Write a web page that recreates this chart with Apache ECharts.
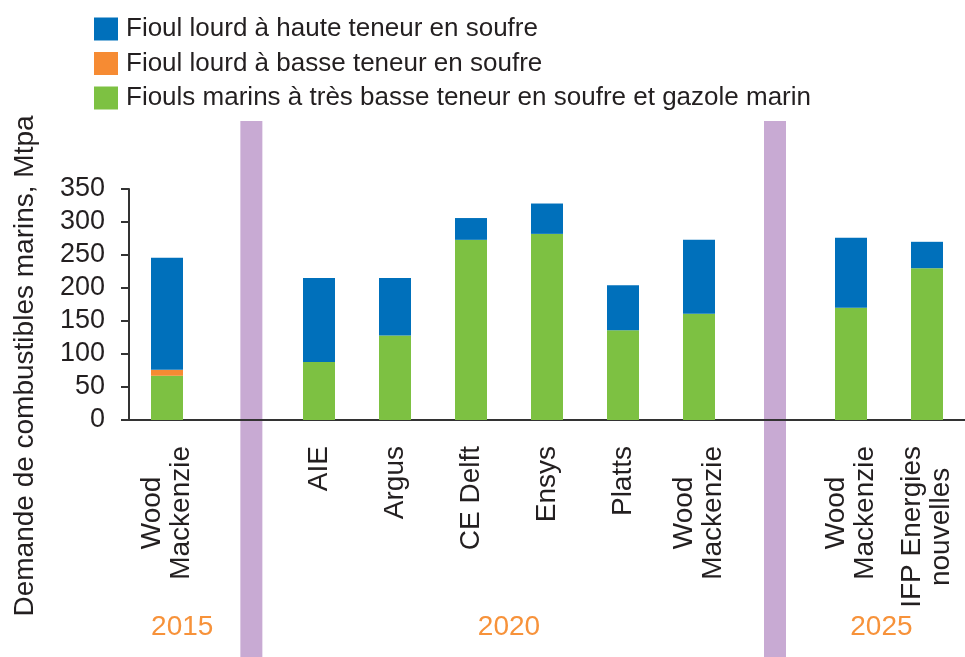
<!DOCTYPE html>
<html>
<head>
<meta charset="utf-8">
<script src="https://cdn.jsdelivr.net/npm/echarts@6/dist/echarts.min.js"></script>
<style>
  html, body { margin: 0; padding: 0; background: #fff; }
  #chart { width: 965px; height: 657px; }
</style>
</head>
<body>
<div id="chart"></div>
<script>
// categories: empty slots hold the purple separators
var categories = ['Wood\nMackenzie', '', 'AIE', 'Argus', 'CE Delft', 'Ensys', 'Platts', 'Wood\nMackenzie', '', 'Wood\nMackenzie', 'IFP Energies\nnouvelles'];
var tresBasse = [67, null, 88, 128, 273, 282, 136, 161, null, 170, 230];
var basse = [9, null, null, null, null, null, null, null, null, null, null];
var haute = [170, null, 127, 87, 33, 46, 68, 112, null, 106, 40];
var yTicks = [0, 50, 100, 150, 200, 250, 300, 350];
var separatorSlots = [1, 8];
// year label and the slots it sits under
var years = ['2015', '2020', '2025'];
var yearSlots = [[0, 0.4], [2, 7], [9, 9.8]];

var names = [
  'Fioul lourd à haute teneur en soufre',
  'Fioul lourd à basse teneur en soufre',
  'Fiouls marins à très basse teneur en soufre et gazole marin'
];
var FONT = '"Liberation Sans", Arial, sans-serif';
var TXT = '#231f20';

var chart = echarts.init(document.getElementById('chart'));

var option = {
  animation: false,
  backgroundColor: '#fff',
  textStyle: { fontFamily: FONT, color: TXT },
  legend: {
    orient: 'vertical',
    left: 89,
    top: 11,
    icon: 'rect',
    itemWidth: 24,
    itemHeight: 23,
    itemGap: 8.5,
    itemStyle: { borderWidth: 0 },
    textStyle: { fontSize: 26, color: TXT, fontFamily: FONT, padding: [0, 0, 0, 3] },
    data: names
  },
  grid: { left: 129, top: 189, width: 840, height: 231, containLabel: false },
  xAxis: {
    type: 'category',
    data: categories,
    axisLine: { lineStyle: { color: '#333', width: 2 } },
    axisTick: { show: false },
    axisLabel: {
      interval: 0,
      rotate: 90,
      margin: 26,
      formatter: function (v) {
        return v.split('\n').map(function (s) { return '{c|' + s + '}'; }).join('\n');
      },
      rich: {
        c: { align: 'center', fontSize: 28, lineHeight: 29, color: TXT, fontFamily: FONT }
      }
    }
  },
  yAxis: {
    type: 'value',
    min: 0,
    max: yTicks[yTicks.length - 1],
    interval: 50,
    splitLine: { show: false },
    axisLine: { show: true, lineStyle: { color: '#333', width: 2 } },
    axisTick: { show: true, length: 8, lineStyle: { color: '#333', width: 2 } },
    axisLabel: { fontSize: 27, color: TXT, margin: 24, fontFamily: FONT }
  },
  series: [
    { name: names[2], type: 'bar', stack: 'tot', barWidth: 32, data: tresBasse, itemStyle: { color: '#7dc142' } },
    { name: names[1], type: 'bar', stack: 'tot', barWidth: 32, data: basse, itemStyle: { color: '#f68b33' } },
    { name: names[0], type: 'bar', stack: 'tot', barWidth: 32, data: haute, itemStyle: { color: '#0070bb' } }
  ]
};
chart.setOption(option);

// separators, year labels and axis title placed from the axis scale
function slotX(s) {
  var i = Math.floor(s), f = s - i;
  var a = chart.convertToPixel({ xAxisIndex: 0 }, i);
  if (f === 0) return a;
  var b = chart.convertToPixel({ xAxisIndex: 0 }, i + 1);
  return a + (b - a) * f;
}
var gfx = [];
separatorSlots.forEach(function (s, k) {
  var x = slotX(s + (k === 0 ? 0.11 : 0));
  gfx.push({ type: 'rect', z: -5, shape: { x: x - 11, y: 121, width: 22, height: 540 }, style: { fill: '#c8aad3' } });
});
years.forEach(function (y, k) {
  var x = (slotX(yearSlots[k][0]) + slotX(yearSlots[k][1])) / 2;
  gfx.push({ type: 'text', x: x, y: 627, style: { text: y, fill: '#f7923a', font: '28px ' + FONT, align: 'center', verticalAlign: 'middle' } });
});
gfx.push({
  type: 'text', x: 25, y: 366, rotation: Math.PI / 2,
  style: { text: 'Demande de combustibles marins, Mtpa', fill: TXT, font: '28px ' + FONT, align: 'center', verticalAlign: 'middle' }
});
chart.setOption({ graphic: gfx });
</script>
</body>
</html>
